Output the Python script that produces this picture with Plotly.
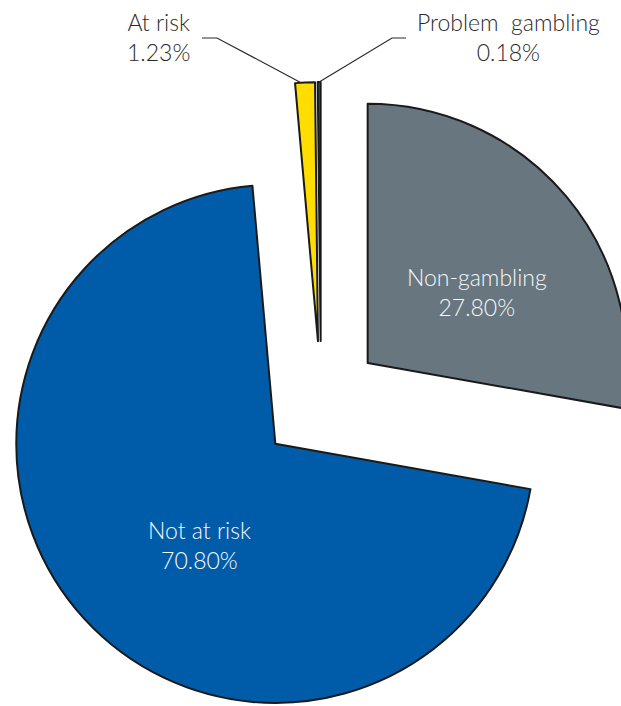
import math
import plotly.graph_objects as go

# ---- data ----
labels = ["Non-gambling", "Not at risk", "At risk", "Problem gambling"]
values = [27.80, 70.80, 1.23, 0.18]
colors = ["#68767f", "#005ca9", "#ffdd00", "#00735c"]
pulls = [0.235, 0.239, 0.235, 0.235]
display_names = ["Non-gambling", "Not at risk", "At risk", "Problem\u00a0 gambling"]

# ---- layout geometry ----
# The reference is a crop of a larger chart: the figure is a bit larger
# than the 621x706 window and the page does not scroll.
W, H = 642, 723
TOP = 81
FONT = "Lato"

fig = go.Figure(
    go.Pie(
        labels=labels,
        values=values,
        sort=False,
        direction="clockwise",
        rotation=0,
        pull=pulls,
        marker=dict(colors=colors, line=dict(color="#1a1a1a", width=2)),
        textinfo="none",
        showlegend=False,
        hoverinfo="label+value",
        domain=dict(x=[0, 1], y=[0, 1]),
    )
)

# pie geometry as plotly computes it (for attaching labels / leader lines)
plot_h = H - TOP
r = min(W / 2, plot_h / 2) / (1 + max(pulls))
cx, cy = W / 2, TOP + plot_h / 2
total = sum(values)


def px_to_paper(x, y):
    return x / W, (H - y) / plot_h


def slice_point(i, frac):
    start = sum(values[:i]) / total * 2 * math.pi
    end = sum(values[: i + 1]) / total * 2 * math.pi
    mid = (start + end) / 2
    ax = cx + pulls[i] * r * math.sin(mid)
    ay = cy - pulls[i] * r * math.cos(mid)
    th = start + frac * (end - start)
    return ax + r * math.sin(th), ay - r * math.cos(th)


# inside labels (white) for the two big slices
inside_pos = {0: (477, 292), 1: (199, 545)}
for i, (tx, ty) in inside_pos.items():
    px, py = px_to_paper(tx, ty)
    fig.add_annotation(
        x=px, y=py, xref="paper", yref="paper",
        xanchor="center", yanchor="middle",
        text=f"{display_names[i]}<br>{values[i]:.2f}%",
        showarrow=False, align="center",
        font=dict(size=23, color="#f6f8fa", family=FONT, weight=300),
    )

# outside labels with elbow leader lines for the two small slices
label_pos = {2: (158, 37), 3: (508, 37)}
elbows = {2: ((202, 38), (217, 38)), 3: ((406, 38), (392, 38))}
fracs = {2: 0.3, 3: 0.5}

for i in [2, 3]:
    tx, ty = label_pos[i]
    px, py = px_to_paper(tx, ty)
    fig.add_annotation(
        x=px, y=py, xref="paper", yref="paper",
        xanchor="center", yanchor="middle",
        text=f"{display_names[i]}<br>{values[i]:.2f}%",
        showarrow=False, align="center",
        font=dict(size=23, color="#2a2a2a", family=FONT, weight=300),
    )
    (x0, y0), (x1, y1) = elbows[i]
    x2, y2 = slice_point(i, fracs[i])
    p0 = px_to_paper(x0, y0)
    p1 = px_to_paper(x1, y1)
    p2 = px_to_paper(x2, y2)
    fig.add_shape(
        type="path", xref="paper", yref="paper",
        path=f"M {p0[0]} {p0[1]} L {p1[0]} {p1[1]} L {p2[0]} {p2[1]}",
        line=dict(color="#2a2a2a", width=1.2),
    )

fig.update_layout(
    width=W, height=H,
    margin=dict(l=0, r=0, t=TOP, b=0),
    paper_bgcolor="white",
    plot_bgcolor="white",
    font=dict(family=FONT),
)

fig.write_html(
    "out.html",
    post_script="document.documentElement.style.overflow='hidden';"
    "document.body.style.overflow='hidden';document.body.style.margin='0';",
)
